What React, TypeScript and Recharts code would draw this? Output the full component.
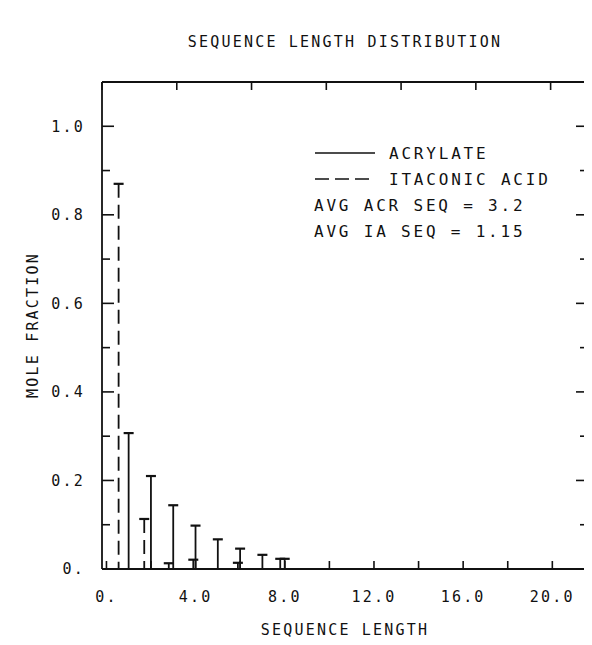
import React from 'react';
import { ComposedChart, Bar, XAxis, YAxis } from 'recharts';

// sequence length distribution
const acrLength = [1, 2, 3, 4, 5, 6, 7, 8];
const acrFraction = [0.307, 0.21, 0.144, 0.098, 0.067, 0.046, 0.032, 0.023];
const iaLength = [0.55, 1.7, 2.8, 3.9, 5.9, 7.8];
const iaFraction = [0.87, 0.113, 0.013, 0.021, 0.014, 0.023];

const xTicks = [0, 2, 4, 6, 8, 10, 12, 14, 16, 18, 20];
const xLabels: Record<number, string> = { 0: '0.', 4: '4.0', 8: '8.0', 12: '12.0', 16: '16.0', 20: '20.0' };
const yTicks = [0, 0.1, 0.2, 0.3, 0.4, 0.5, 0.6, 0.7, 0.8, 0.9, 1.0];
const yLabels: Record<string, string> = { '0': '0.', '0.2': '0.2', '0.4': '0.4', '0.6': '0.6', '0.8': '0.8', '1': '1.0' };

const rows = [
  ...acrLength.map((len, i) => ({ len, acr: acrFraction[i] })),
  ...iaLength.map((len, i) => ({ len, ia: iaFraction[i] })),
].sort((a, b) => a.len - b.len);

const FONT = '"DejaVu Sans Mono", monospace';
const INK = '#111';

const StemShape = (props: any) => {
  const { x, y, width, height, dashed } = props;
  if (!height || height <= 0) return null;
  const cx = x + width / 2;
  return (
    <g stroke={INK} strokeWidth={1.8}>
      <line x1={cx} y1={y} x2={cx} y2={y + height} strokeDasharray={dashed ? '14 7' : undefined} />
      <line x1={cx - 5} y1={y} x2={cx + 5} y2={y} strokeWidth={2.2} />
    </g>
  );
};

const BottomTick = (props: any) => {
  const { x, y, payload } = props;
  const lbl = xLabels[payload.value];
  return (
    <g>
      <line x1={x} y1={y} x2={x} y2={y - 8} stroke={INK} strokeWidth={1.6} />
      {lbl !== undefined && (
        <text x={x} y={y + 33} textAnchor="middle" fontFamily={FONT} fontSize={15} letterSpacing={2.2} fill={INK}>
          {lbl}
        </text>
      )}
    </g>
  );
};

const TopTick = (props: any) => {
  const { x, y } = props;
  return <line x1={x} y1={y} x2={x} y2={y + 8} stroke={INK} strokeWidth={1.6} />;
};

const LeftTick = (props: any) => {
  const { x, y, payload } = props;
  const key = String(Math.round(payload.value * 10) / 10);
  const lbl = yLabels[key];
  return (
    <g>
      <line x1={x} y1={y} x2={x + (lbl ? 12 : 8)} y2={y} stroke={INK} strokeWidth={1.6} />
      {lbl !== undefined && (
        <text x={x - 17} y={y} dy="0.35em" textAnchor="end" fontFamily={FONT} fontSize={15} letterSpacing={2.2} fill={INK}>
          {lbl}
        </text>
      )}
    </g>
  );
};

const RightTick = (props: any) => {
  const { x, y, payload } = props;
  const major = Math.round(payload.value * 10) % 2 === 0;
  return <line x1={x} y1={y} x2={x - (major ? 12 : 8)} y2={y} stroke={INK} strokeWidth={1.6} />;
};

export default function App() {
  return (
    <div style={{ position: 'relative', width: 592, height: 645, margin: -8, background: '#fff' }}>
      <ComposedChart
        width={592}
        height={645}
        data={rows}
        margin={{ top: 40, right: 2, bottom: 40, left: 40 }}
      >
        <XAxis
          xAxisId="b"
          dataKey="len"
          type="number"
          domain={[-0.2, 21.6]}
          ticks={xTicks}
          interval={0}
          height={36}
          tickSize={0}
          tickMargin={0}
          tickLine={false}
          axisLine={{ stroke: INK, strokeWidth: 1.8 }}
          tick={<BottomTick />}
          allowDataOverflow
        />
        <XAxis
          xAxisId="t"
          orientation="top"
          type="number"
          domain={[-0.2, 21.6]}
          ticks={xTicks}
          interval={0}
          height={42}
          tickSize={0}
          tickMargin={0}
          tickLine={false}
          axisLine={{ stroke: INK, strokeWidth: 1.8 }}
          tick={<TopTick />}
          allowDataOverflow
        />
        <YAxis
          yAxisId="l"
          type="number"
          domain={[0, 1.1]}
          ticks={yTicks}
          interval={0}
          width={62}
          tickSize={0}
          tickMargin={0}
          tickLine={false}
          axisLine={{ stroke: INK, strokeWidth: 1.8 }}
          tick={<LeftTick />}
          allowDataOverflow
        />
        <YAxis
          yAxisId="r"
          orientation="right"
          type="number"
          domain={[0, 1.1]}
          ticks={yTicks}
          interval={0}
          width={2}
          tickSize={0}
          tickMargin={0}
          tickLine={false}
          axisLine={{ stroke: INK, strokeWidth: 1.8 }}
          tick={<RightTick />}
          allowDataOverflow
        />
        <Bar
          xAxisId="b"
          yAxisId="l"
          dataKey="acr"
          stackId="s"
          barSize={10}
          isAnimationActive={false}
          shape={<StemShape />}
        />
        <Bar
          xAxisId="b"
          yAxisId="l"
          dataKey="ia"
          stackId="s"
          barSize={10}
          isAnimationActive={false}
          shape={<StemShape dashed />}
        />
      </ComposedChart>

      <svg width={592} height={645} style={{ position: 'absolute', left: 0, top: 0, pointerEvents: 'none' }}>
        <g fontFamily={FONT} fontSize={15} letterSpacing={2.2} fill={INK}>
          <text x={345} y={42} textAnchor="middle" dy="0.35em">SEQUENCE LENGTH DISTRIBUTION</text>
          <text x={345} y={630} textAnchor="middle" dy="0.35em">SEQUENCE LENGTH</text>
          <text x={33} y={325} textAnchor="middle" dy="0.35em" transform="rotate(-90 33 325)">MOLE FRACTION</text>
        </g>
        <g fontFamily={FONT} fontSize={16} letterSpacing={2.8} fill={INK}>
          <line x1={315} y1={153} x2={375} y2={153} stroke={INK} strokeWidth={1.6} />
          <text x={389} y={153} dy="0.35em">ACRYLATE</text>
          <line x1={315} y1={179} x2={375} y2={179} stroke={INK} strokeWidth={1.6} strokeDasharray="14 6" />
          <text x={389} y={179} dy="0.35em">ITACONIC ACID</text>
          <text x={314} y={205} dy="0.35em">AVG ACR SEQ = 3.2</text>
          <text x={314} y={231} dy="0.35em">AVG IA SEQ = 1.15</text>
        </g>
      </svg>
    </div>
  );
}
